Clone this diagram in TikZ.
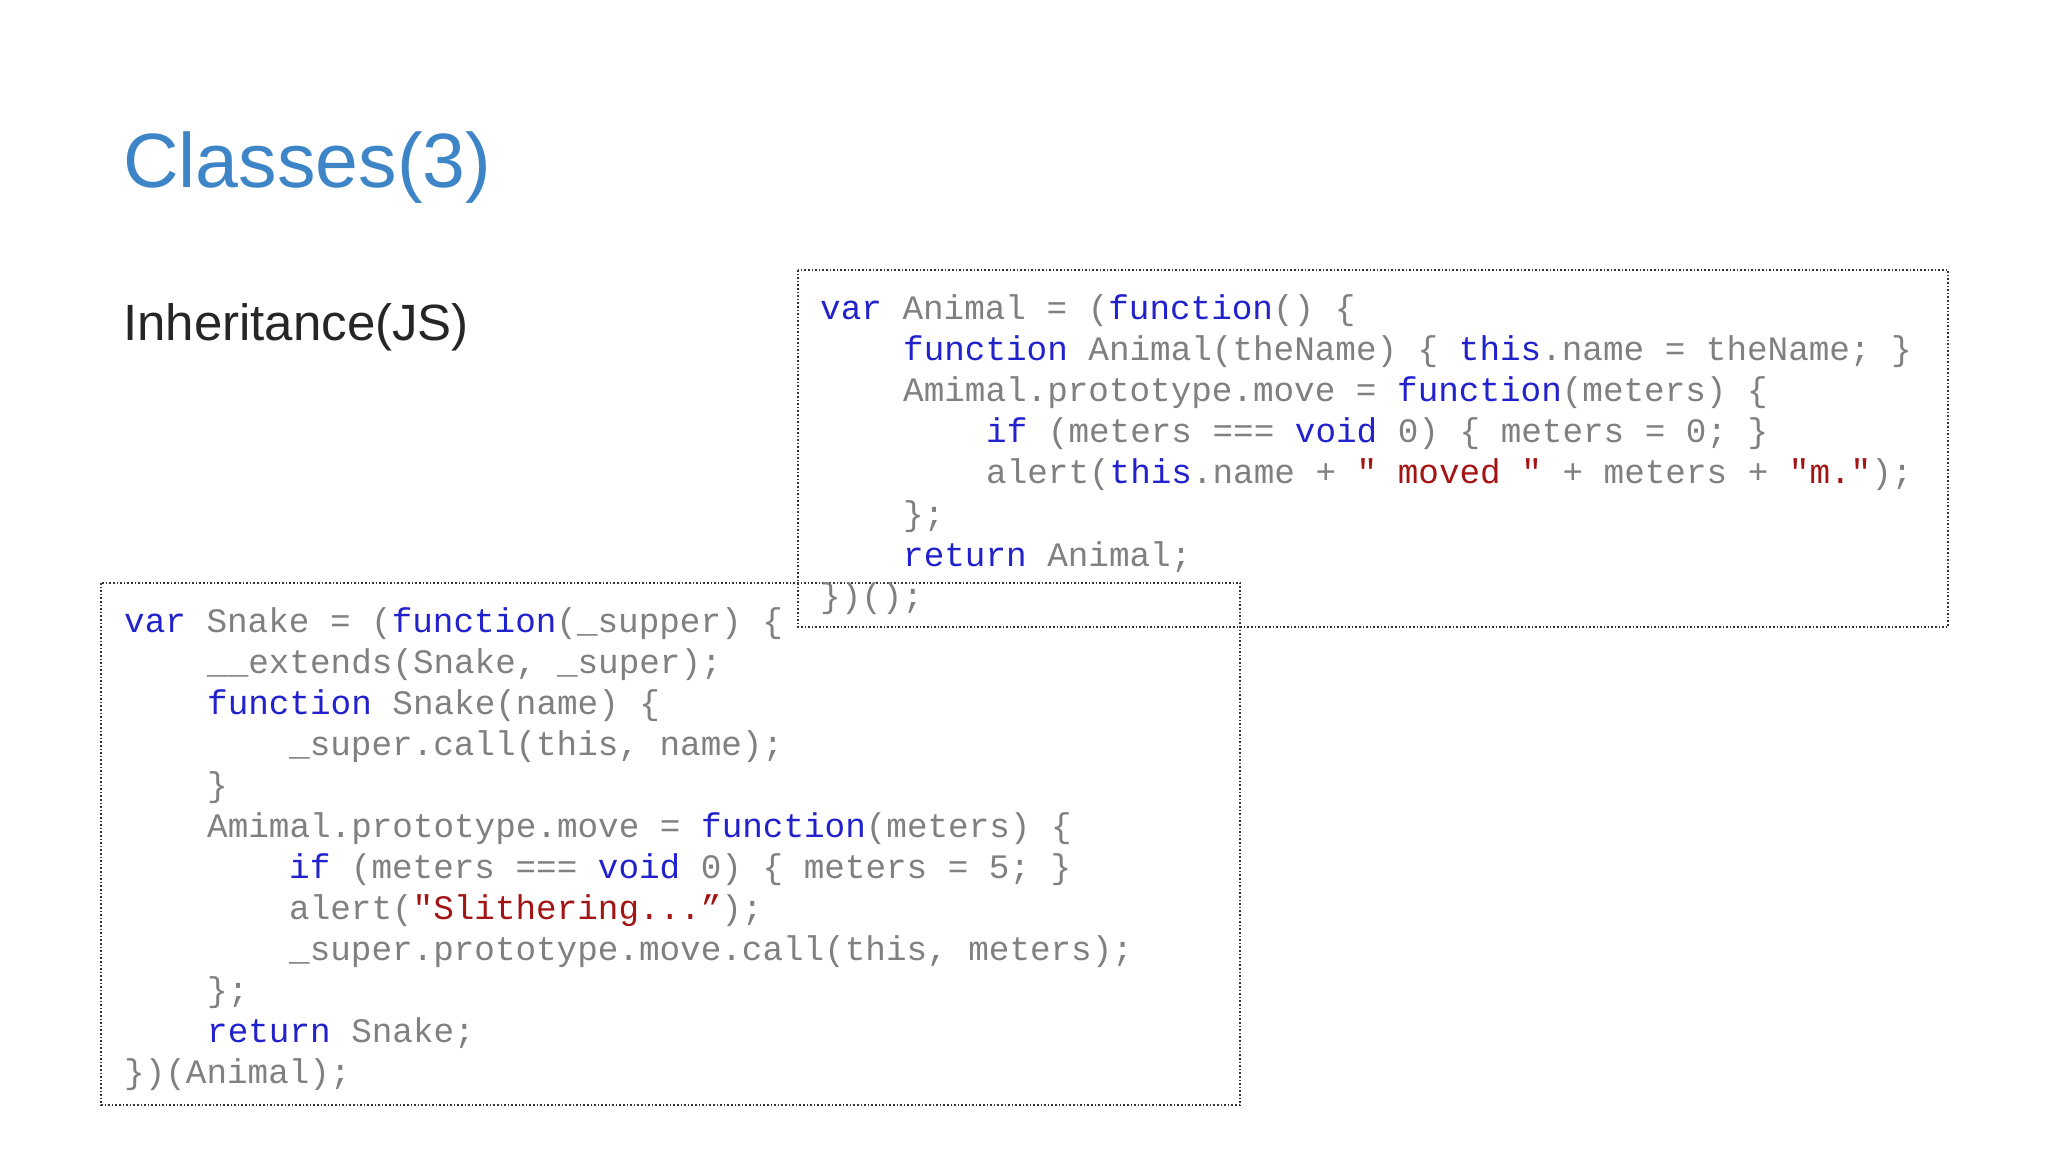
\documentclass[tikz,border=0pt]{standalone}
\usepackage{fontspec}
\setmainfont{Liberation Sans}
\setmonofont{Liberation Mono}
\definecolor{ttl}{HTML}{3D85C6}
\definecolor{kw}{HTML}{2222CC}
\definecolor{st}{HTML}{A31515}
\definecolor{cd}{HTML}{808080}
\newcommand\kw[1]{\textcolor{kw}{#1}}
\newcommand\st[1]{\textcolor{st}{#1}}
\tikzset{code/.style={anchor=base west,inner sep=0pt,text=cd,font=\fontsize{34.3}{40}\ttfamily},
box/.style={draw=black!80,dotted,line width=1.6pt}}
\begin{document}
\begin{tikzpicture}[x=1pt,y=-1pt]
\useasboundingbox[fill=white] (0,0) rectangle (2048,1152);
\node[anchor=west,inner sep=0pt,text=ttl,font=\fontsize{77}{82}\selectfont] (title) at (123,168) {Classes(3)};
\node[anchor=west,inner sep=0pt,text=black!85,font=\fontsize{51}{58}\selectfont] (sub) at (123,327) {Inheritance(JS)};
\draw[box] (798,270) rectangle (1948,627);
\draw[box] (101,583) rectangle (1240,1105);
% box 1
\node[code] (a1) at (820,319) {\kw{var} Animal = (\kw{function}() \{};
\node[code] (a2) at (903,360) {\kw{function} Animal(theName) \{ \kw{this}.name = theName; \}};
\node[code] (a3) at (903,401) {Amimal.prototype.move = \kw{function}(meters) \{};
\node[code] (a4) at (986,442) {\kw{if} (meters === \kw{void} 0) \{ meters = 0; \}};
\node[code] (a5) at (986,483) {alert(\kw{this}.name + \st{" moved "} + meters + \st{"m."});};
\node[code] (a6) at (903,525) {\};};
\node[code] (a7) at (903,566) {\kw{return} Animal;};
\node[code] (a8) at (820,607) {\})();};
% box 2
\node[code] (b1) at (124,632) {\kw{var} Snake = (\kw{function}(\_supper) \{};
\node[code] (b2) at (207,673) {\_\_extends(Snake, \_super);};
\node[code] (b3) at (207,714) {\kw{function} Snake(name) \{};
\node[code] (b4) at (289,755) {\_super.call(this, name);};
\node[code] (b5) at (207,796) {\}};
\node[code] (b6) at (207,837) {Amimal.prototype.move = \kw{function}(meters) \{};
\node[code] (b7) at (289,878) {\kw{if} (meters === \kw{void} 0) \{ meters = 5; \}};
\node[code] (b8) at (289,919) {alert(\st{"Slithering...”});};
\node[code] (b9) at (289,960) {\_super.prototype.move.call(this, meters);};
\node[code] (b10) at (207,1001) {\};};
\node[code] (b11) at (207,1042) {\kw{return} Snake;};
\node[code] (b12) at (124,1083) {\})(Animal);};
\end{tikzpicture}
\end{document}
